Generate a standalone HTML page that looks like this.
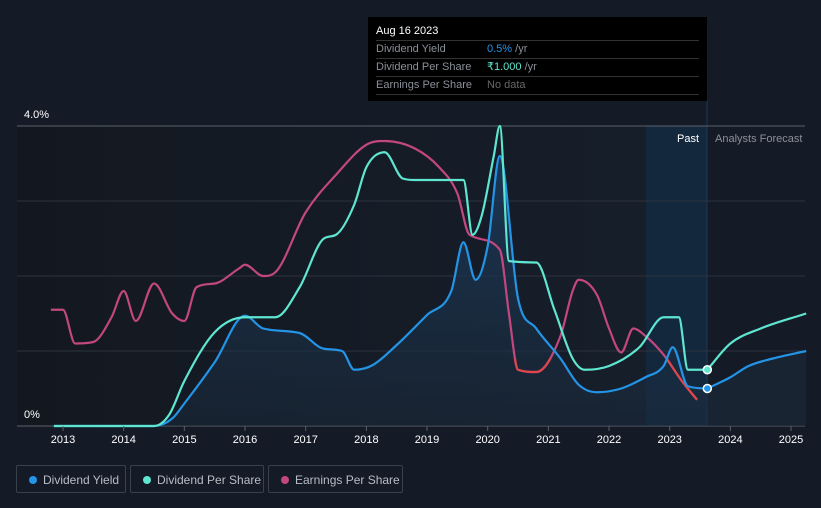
<!DOCTYPE html>
<html><head><meta charset="utf-8"><style>
body{margin:0;background:#151b26;font-family:"Liberation Sans",sans-serif;}
#wrap{position:relative;width:821px;height:508px;overflow:hidden;background:#151b26}
.tt{position:absolute;left:368px;top:17px;width:339px;height:84px;background:#000;color:#fff;font-size:11px}
.tt .row{position:absolute;left:8px;width:323px;border-top:1px solid #333;height:17px;line-height:17px;color:#8a8f98}
.leg{position:absolute;top:465px;height:28px;border:1px solid #3a404c;border-radius:2px;color:#b8bcc4;font-size:12px;line-height:28px;box-sizing:border-box;padding-left:26px}
.leg i{position:absolute;left:12px;top:10px;width:8px;height:8px;border-radius:50%}
</style></head><body>
<div id="wrap">
<svg id="svg" width="821" height="508" style="position:absolute;left:0;top:0">
<defs>
<linearGradient id="bgL" x1="0" x2="1" y1="0" y2="0"><stop offset="0" stop-color="#131820"/><stop offset="1" stop-color="#161e2a"/></linearGradient>
<linearGradient id="area" x1="0" x2="0" y1="0" y2="1"><stop offset="0" stop-color="#1b3a5a" stop-opacity="0.9"/><stop offset="1" stop-color="#1a2a3c" stop-opacity="0.5"/></linearGradient>
</defs>
<rect x="17" y="126" width="629" height="300" fill="url(#bgL)"/>
<rect x="646" y="126" width="61" height="300" fill="#13283d"/>
<line x1="707" y1="100" x2="707" y2="426" stroke="#1f3a55" stroke-width="1"/>
<g id="grid"></g><g id="areaG"></g><g id="lines"></g><g id="xt"></g>
<text x="24" y="118" fill="#fff" font-size="11">4.0%</text>
<text x="24" y="418" fill="#fff" font-size="11">0%</text>
<text x="699" y="142" fill="#fff" font-size="11" text-anchor="end">Past</text>
<text x="715" y="142" fill="#8a8f98" font-size="11">Analysts Forecast</text>
</svg>
<div class="tt">
<div style="position:absolute;left:8px;top:8px;font-size:11px">Aug 16 2023</div>
<div class="row" style="top:23px">Dividend Yield<span style="position:absolute;left:111px"><span style="color:#2394e6">0.5%</span> /yr</span></div>
<div class="row" style="top:41px">Dividend Per Share<span style="position:absolute;left:111px"><span style="color:#5ee6d0">₹1.000</span> /yr</span></div>
<div class="row" style="top:59px">Earnings Per Share<span style="position:absolute;left:111px;color:#666">No data</span></div>
<div class="row" style="top:77px;height:0"></div>
</div>
<div class="leg" style="left:16px;width:110px"><i style="background:#2394e6"></i>Dividend Yield</div>
<div class="leg" style="left:130px;width:134px"><i style="background:#5ee6d0"></i>Dividend Per Share</div>
<div class="leg" style="left:268px;width:135px"><i style="background:#c2477f"></i>Earnings Per Share</div>
</div>
<script>
const years=[2013,2014,2015,2016,2017,2018,2019,2020,2021,2022,2023,2024,2025];
const yieldT=[2012.85,2014.5,2014.8,2015,2015.5,2016,2016.3,2016.9,2017.3,2017.6,2017.8,2018.1,2018.5,2019,2019.4,2019.6,2019.8,2020,2020.2,2020.5,2020.8,2021.2,2021.5,2021.8,2022.2,2022.6,2022.9,2023.05,2023.3,2023.62];
const yieldV=[0,0,0.1,0.3,0.85,1.47,1.3,1.24,1.03,1.0,0.75,0.81,1.08,1.48,1.8,2.45,1.95,2.4,3.6,1.7,1.3,0.9,0.55,0.45,0.5,0.65,0.8,1.05,0.53,0.5];
const yieldFT=[2023.62,2024,2024.3,2024.7,2025.25];
const yieldFV=[0.5,0.65,0.8,0.9,1.0];
const dpsT=[2012.85,2014.5,2014.75,2015,2015.5,2016,2016.5,2016.9,2017.3,2017.5,2017.8,2018,2018.3,2018.6,2018.8,2019.6,2019.75,2019.9,2020.1,2020.2,2020.35,2020.8,2021.1,2021.4,2021.6,2022,2022.5,2022.9,2023.15,2023.3,2023.62];
const dpsV=[0,0,0.15,0.6,1.25,1.45,1.45,1.85,2.5,2.55,2.95,3.45,3.65,3.3,3.28,3.28,2.55,2.8,3.6,4.0,2.2,2.18,1.55,0.9,0.75,0.8,1.05,1.45,1.45,0.75,0.75];
const dpsFT=[2023.62,2024,2024.5,2025.25];
const dpsFV=[0.75,1.1,1.3,1.5];
const epsT=[2012.8,2013,2013.2,2013.5,2013.8,2014,2014.2,2014.5,2014.8,2015,2015.2,2015.5,2015.9,2016,2016.3,2016.5,2017,2017.5,2018,2018.3,2018.8,2019.2,2019.5,2019.7,2020.2,2020.35,2020.5,2020.8,2021.2,2021.4,2021.5,2021.8,2022,2022.2,2022.4,2022.6,2022.9,2023.2,2023.45];
const epsV=[1.55,1.55,1.1,1.12,1.45,1.8,1.4,1.9,1.5,1.4,1.85,1.9,2.1,2.15,2.0,2.05,2.85,3.35,3.75,3.8,3.7,3.45,3.1,2.55,2.35,1.5,0.75,0.72,1.2,1.8,1.95,1.75,1.3,0.98,1.3,1.2,0.95,0.6,0.35];
const X=t=>63+(t-2013)*60.67, Y=v=>426-v*75;
const NS="http://www.w3.org/2000/svg";
function mk(tag,attrs,parent){const e=document.createElementNS(NS,tag);for(const k in attrs)e.setAttribute(k,attrs[k]);parent.appendChild(e);return e;}
function pathD(ts,vs){const p=ts.map((t,i)=>[X(t),Y(vs[i])]);const n=p.length;
const d=[],m=[];for(let i=0;i<n-1;i++)d.push((p[i+1][1]-p[i][1])/(p[i+1][0]-p[i][0]));
for(let i=0;i<n;i++){if(i==0)m.push(d[0]);else if(i==n-1)m.push(d[n-2]);else m.push(d[i-1]*d[i]<=0?0:(d[i-1]+d[i])/2);}
for(let i=0;i<n-1;i++){if(d[i]==0){m[i]=0;m[i+1]=0;continue;}const a=m[i]/d[i],b=m[i+1]/d[i],s=a*a+b*b;if(s>9){const t=3/Math.sqrt(s);m[i]=t*a*d[i];m[i+1]=t*b*d[i];}}
let s="M"+p[0][0]+","+p[0][1];
for(let i=0;i<n-1;i++){const h=(p[i+1][0]-p[i][0])/3;s+=" C"+(p[i][0]+h)+","+(p[i][1]+m[i]*h)+" "+(p[i+1][0]-h)+","+(p[i+1][1]-m[i+1]*h)+" "+p[i+1][0]+","+p[i+1][1];}
return s;}
const grid=document.getElementById('grid');
[1,2,3,4].forEach(v=>{const l=mk('line',{x1:17,x2:805,y1:Y(v),y2:Y(v),stroke:v==4?'#5a606a':'#2c333e','stroke-width':1},grid);
});
const ax=mk('line',{x1:17,x2:805,y1:426,y2:426,stroke:'#5a606a'},grid);

const xt=document.getElementById('xt');
years.forEach(y=>{mk('line',{x1:X(y),x2:X(y),y1:426,y2:431,stroke:'#5a606a'},xt);
const t=mk('text',{x:X(y),y:443,fill:'#fff','font-size':11,'text-anchor':'middle'},xt);t.textContent=y;
});
const ag=document.getElementById('areaG');
const a1=mk('path',{d:pathD(yieldT,yieldV)+" L"+X(2023.62)+",426 L"+X(2012.85)+",426 Z",fill:'url(#area)'},ag);

const a2=mk('path',{d:pathD(yieldFT,yieldFV)+" L"+X(2025.25)+",426 L"+X(2023.62)+",426 Z",fill:'#1a2838',opacity:0.7},ag);

const lg=document.getElementById('lines');
function line(ts,vs,c,name){const p=mk('path',{d:pathD(ts,vs),fill:'none',stroke:c,'stroke-width':2.2},lg);
}
line(epsT,epsV,'#c2477f','eps-line');
const clip=mk('clipPath',{id:'lowc'},lg);mk('rect',{x:0,y:Y(0.9),width:821,height:300},clip);
const rp=mk('path',{d:pathD(epsT,epsV),fill:'none',stroke:'#e0454a','stroke-width':2.2,'clip-path':'url(#lowc)'},lg);

line(yieldT,yieldV,'#2394e6','yield-line');
line(yieldFT,yieldFV,'#2394e6','yield-forecast-line');
line(dpsT,dpsV,'#5ee6d0','dps-line');
line(dpsFT,dpsFV,'#5ee6d0','dps-forecast-line');
const m1=mk('circle',{cx:X(2023.62),cy:Y(yieldV[yieldV.length-1]),r:4,fill:'#2394e6',stroke:'#fff','stroke-width':1.5},lg);

const m2=mk('circle',{cx:X(2023.62),cy:Y(dpsV[dpsV.length-1]),r:4,fill:'#5ee6d0',stroke:'#fff','stroke-width':1.5},lg);

</script>
</body></html>
